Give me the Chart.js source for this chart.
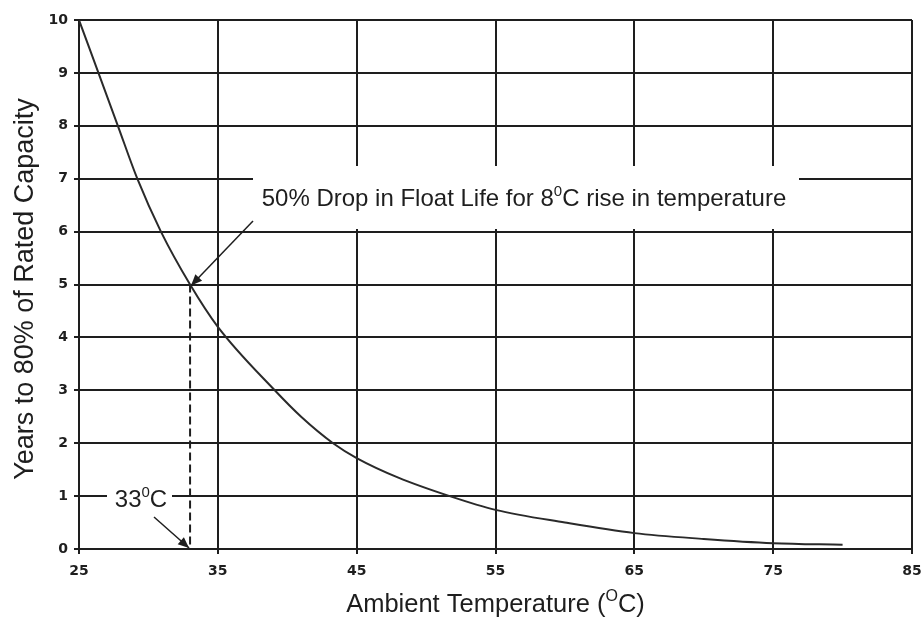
<!DOCTYPE html>
<html>
<head>
<meta charset="utf-8">
<script src="https://cdn.jsdelivr.net/npm/chart.js@4/dist/chart.umd.min.js"></script>
<style>
  body { margin: 0; background: #fff; }
  #wrap { width: 924px; height: 617px; }
</style>
</head>
<body>
<div id="wrap"><canvas id="chart" width="924" height="617"></canvas></div>
<script>
// values
const temps = [25, 26.4, 27.8, 29.2, 30.9, 33, 35, 39.1, 41, 43.3, 45, 48, 51.7, 55, 60, 65, 70, 75, 80];
const years = [10, 9, 8, 7, 6, 5, 4.2, 3, 2.5, 2, 1.72, 1.35, 1, 0.74, 0.5, 0.3, 0.19, 0.11, 0.08];
const markTemp = [33, 33];
const markYears = [5, 0];

const xTicks = [25, 35, 45, 55, 65, 75, 85];
const yTicks = [0, 1, 2, 3, 4, 5, 6, 7, 8, 9, 10];

const INK = "#1e1e1e";
const SANS = "'Liberation Sans', Arial, sans-serif";

function drawRich(ctx, parts, x, y, size) {
  // parts: [text, isSuperscript]
  let w = 0;
  parts.forEach(p => {
    ctx.font = (p[1] ? Math.round(size * 0.62) : size) + "px " + SANS;
    w += ctx.measureText(p[0]).width;
  });
  let cx = x - w / 2;
  parts.forEach(p => {
    ctx.font = (p[1] ? Math.round(size * 0.62) : size) + "px " + SANS;
    ctx.fillText(p[0], cx, p[1] ? y - size * 0.42 : y);
    cx += ctx.measureText(p[0]).width;
  });
}

function arrow(ctx, x0, y0, x1, y1) {
  let a = Math.atan2(y1 - y0, x1 - x0);
  ctx.beginPath();
  ctx.moveTo(x0, y0);
  ctx.lineTo(x1, y1);
  ctx.lineWidth = 1.5;
  ctx.stroke();
  ctx.beginPath();
  ctx.moveTo(x1, y1);
  ctx.lineTo(x1 - 12 * Math.cos(a - 0.4), y1 - 12 * Math.sin(a - 0.4));
  ctx.lineTo(x1 - 12 * Math.cos(a + 0.4), y1 - 12 * Math.sin(a + 0.4));
  ctx.closePath();
  ctx.fill();
}

const notes = {
  id: "notes",
  afterDatasetsDraw(chart) {
    const ctx = chart.ctx;
    const xs = chart.scales.x, ys = chart.scales.y;
    const area = chart.chartArea;
    ctx.save();

    // white boxes behind the labels
    ctx.fillStyle = "#fff";
    ctx.fillRect(253, 166, 546, 63);
    ctx.fillRect(107, 486, 65, 26);

    ctx.fillStyle = INK;
    ctx.strokeStyle = INK;
    ctx.textBaseline = "alphabetic";
    ctx.textAlign = "left";
    drawRich(ctx, [["50% Drop in Float Life for 8", false], ["0", true], ["C rise in temperature", false]], 524, 206, 24);
    drawRich(ctx, [["33", false], ["0", true], ["C", false]], 141, 507, 24);

    const px = xs.getPixelForValue(markTemp[0]);
    const pTop = ys.getPixelForValue(markYears[0]);
    const pBot = ys.getPixelForValue(markYears[1]);
    arrow(ctx, 253, 221, px + 1, pTop + 1);
    arrow(ctx, 154, 517, px - 1, pBot - 1);

    // axis titles
    drawRich(ctx, [["Ambient Temperature (", false], ["O", true], ["C)", false]], (area.left + area.right) / 2, 612, 25.5);
    ctx.translate(33, 289);
    ctx.rotate(-Math.PI / 2);
    ctx.font = "27px " + SANS;
    ctx.textAlign = "center";
    ctx.fillText("Years to 80% of Rated Capacity", 0, 0);
    ctx.restore();
  }
};

new Chart(document.getElementById("chart"), {
  type: "line",
  data: {
    datasets: [
      {
        data: temps.map((t, i) => ({ x: t, y: years[i] })),
        borderColor: "#2a2a2a",
        borderWidth: 2,
        pointRadius: 0,
        cubicInterpolationMode: "monotone",
        fill: false
      },
      {
        data: markTemp.map((t, i) => ({ x: t, y: markYears[i] })),
        borderColor: INK,
        borderWidth: 2,
        borderDash: [8, 4],
        pointRadius: 0,
        fill: false
      }
    ]
  },
  plugins: [notes],
  options: {
    responsive: false,
    animation: false,
    devicePixelRatio: 1,
    layout: { padding: { top: 20, right: 12, left: 0, bottom: 0 } },
    plugins: { legend: { display: false }, tooltip: { enabled: false } },
    scales: {
      x: {
        type: "linear",
        min: 25, max: 85,
        afterFit: s => { s.height = 68; s.paddingLeft = 0; s.paddingRight = 0; },
        afterBuildTicks: s => { s.ticks = xTicks.map(v => ({ value: v })); },
        grid: { color: INK, lineWidth: 2, tickLength: 5 },
        border: { color: INK, width: 2 },
        ticks: { color: INK, padding: 9, font: { family: "'DejaVu Sans'", weight: "bold", size: 14 } }
      },
      y: {
        min: 0, max: 10,
        afterFit: s => { s.width = 79; s.paddingTop = 0; s.paddingBottom = 0; },
        afterBuildTicks: s => { s.ticks = yTicks.map(v => ({ value: v })); },
        grid: { color: INK, lineWidth: 2, tickLength: 5 },
        border: { color: INK, width: 2 },
        ticks: { color: INK, padding: 6, font: { family: "'DejaVu Sans'", weight: "bold", size: 14 } }
      }
    }
  }
});
</script>
</body>
</html>
